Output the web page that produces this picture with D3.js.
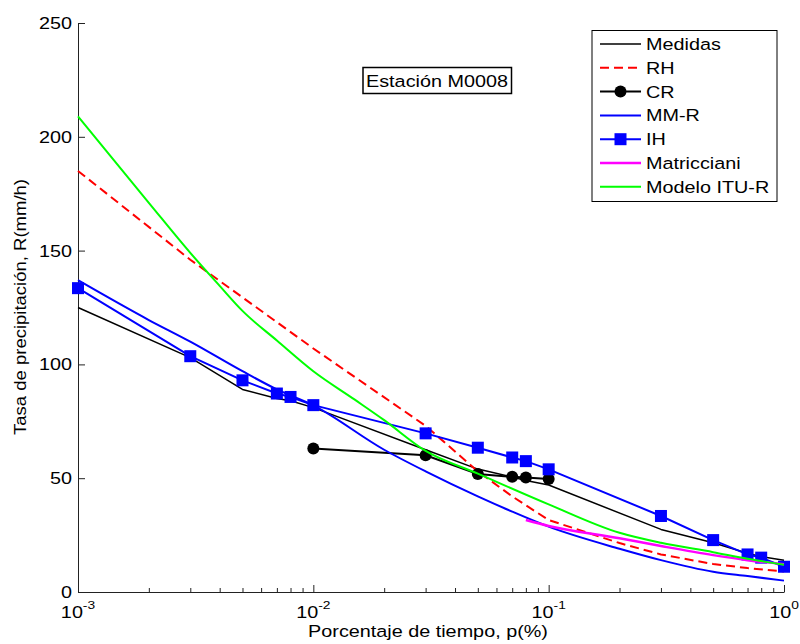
<!DOCTYPE html>
<html><head><meta charset="utf-8">
<script src="https://cdn.jsdelivr.net/npm/d3@7"></script>
<style>body{margin:0;background:#fff}svg{display:block;font-family:Arial,"Liberation Sans",Helvetica,sans-serif}</style>
</head><body><svg width="800" height="644"></svg>
<script>
// ---- data ----
const pMed = [0.001,0.003,0.005,0.007,0.008,0.01,0.03,0.05,0.07,0.08,0.1,0.3,0.5,0.7,0.8,1];
const medidas = [125,103,89,85,84,81,62.5,54,50.5,49,47,27.5,21.6,17,15.5,14];
const pRH = [0.001,0.003,0.01,0.03,0.05,0.07,0.1,0.2,0.3,0.5,0.7,1];
const rh = [185,146,107,73,53,42,31.6,21.5,16.5,12.3,10.5,9];
const pCR = [0.01,0.03,0.05,0.07,0.08,0.1];
const cr = [63,60.1,51.8,50.6,50.3,49.6];
const pMMR = [0.001,0.002,0.003,0.005,0.007,0.01,0.02,0.03,0.05,0.07,0.1,0.2,0.3,0.5,0.7,1];
const mmr = [137,119.5,110,97,89,82,62.5,53,42,35.3,28.7,19,14,8.9,7,5];
const pIH = [0.001,0.003,0.005,0.007,0.008,0.01,0.03,0.05,0.07,0.08,0.1,0.3,0.5,0.7,0.8,1];
const ih = [133.5,103.6,93,87.2,85.7,82.1,69.7,63.4,59.1,57.5,53.9,33.4,22.8,16.5,15.1,11.1];
const pMat = [0.08,0.1,0.2,0.3,0.5,0.7,1];
const mat = [31.6,29,23.6,20.2,16.2,14,12.2];
const pITU = [0.001,0.002,0.003,0.004,0.005,0.007,0.01,0.015,0.02,0.03,0.05,0.1,0.2,0.3,0.5,0.7,1];
const itu = [209,171,149,134.5,123.5,110.5,97,84.5,75.5,62,52,38.5,26,21.6,17.5,14.6,12];
const yTicks = [0,50,100,150,200,250];
const xDecades = [-3,-2,-1,0];
const legendNames = ["Medidas","RH","CR","MM-R","IH","Matricciani","Modelo ITU-R"];
const stationLabel = "Estación M0008";
const xLabel = "Porcentaje de tiempo, p(%)";
const yLabel = "Tasa de precipitación, R(mm/h)";

// ---- setup ----
const svg = d3.select("svg");
const x = d3.scaleLog().domain([1e-3,1]).range([78,784]);
const y = d3.scaleLinear().domain([0,250]).range([592,23]);
const SX = 1.2, FS = 16.5;

function stext(g, px, py, str, anchor, size){
  return g.append("text")
    .attr("transform", `translate(${px},${py}) scale(${SX},1)`)
    .attr("text-anchor", anchor).attr("font-size", size||FS).attr("fill","#000").text(str);
}

// x axis ticks
const allX = [];
xDecades.forEach(e => {
  if (e < 0) for (let k=1;k<=9;k++) allX.push(k*Math.pow(10,e));
  else allX.push(1);
});
const isMajor = v => Math.abs(Math.log10(v) - Math.round(Math.log10(v))) < 1e-9;

const gx = svg.append("g").attr("transform","translate(0,592)")
  .call(d3.axisBottom(x).tickValues(allX).tickSize(-7).tickSizeOuter(0).tickFormat(""));
gx.selectAll(".tick line").attr("y2", d => isMajor(d) ? -7 : -4).attr("stroke","#222");
gx.select(".domain").attr("stroke","#222");

const gy = svg.append("g").attr("transform","translate(78,0)")
  .call(d3.axisLeft(y).tickValues(yTicks).tickSize(-7).tickSizeOuter(0).tickFormat(""));
gy.selectAll(".tick line").attr("stroke","#222");
gy.select(".domain").attr("stroke","#222");

// tick labels
const labels = svg.append("g");
yTicks.forEach(v => stext(labels, 72, y(v)+6, String(v), "end"));
xDecades.forEach(e => {
  const t = labels.append("text")
    .attr("transform", `translate(${x(Math.pow(10,e))},618) scale(${SX},1)`)
    .attr("text-anchor","middle").attr("font-size",FS);
  t.append("tspan").text("10");
  t.append("tspan").attr("dy",-9).attr("font-size",11.5).text(String(e));
});

// axis titles
stext(svg, 428, 637, xLabel, "middle");
svg.append("text")
  .attr("transform","translate(26,307) rotate(-90)")
  .attr("text-anchor","middle").attr("font-size",FS)
  .attr("textLength",256).attr("lengthAdjust","spacingAndGlyphs")
  .text(yLabel);

// ---- series ----
const zip = (a,b) => a.map((v,i)=>[v,b[i]]);
const series = [
  {name:legendNames[0], data:zip(pMed,medidas), color:"#000", w:1.5},
  {name:legendNames[1], data:zip(pRH,rh), color:"#ff0000", w:2, dash:"9,5"},
  {name:legendNames[2], data:zip(pCR,cr), color:"#000", w:2, marker:"circle"},
  {name:legendNames[3], data:zip(pMMR,mmr), color:"#0000ff", w:2, smooth:true},
  {name:legendNames[4], data:zip(pIH,ih), color:"#0000ff", w:2, marker:"square"},
  {name:legendNames[5], data:zip(pMat,mat), color:"#ff00ff", w:2.5, smooth:true},
  {name:legendNames[6], data:zip(pITU,itu), color:"#00ff00", w:2, smooth:true}
];
const plot = svg.append("g");
function drawMarker(g, cx, cy, s){
  if (s.marker === "circle") g.append("circle").attr("cx",cx).attr("cy",cy).attr("r",6).attr("fill",s.color);
  else if (s.marker === "square") g.append("rect").attr("x",cx-6).attr("y",cy-6).attr("width",12).attr("height",12).attr("fill",s.color);
}
series.forEach(s => {
  const line = d3.line().x(d => x(d[0])).y(d => y(d[1]))
    .curve(s.smooth ? d3.curveMonotoneX : d3.curveLinear);
  plot.append("path").attr("d", line(s.data)).attr("fill","none")
    .attr("stroke", s.color).attr("stroke-width", s.w)
    .attr("stroke-dasharray", s.dash || null).attr("stroke-linejoin","round");
  if (s.marker) s.data.forEach(d => drawMarker(plot, x(d[0]), y(d[1]), s));
});

// ---- legend ----
const lg = svg.append("g");
lg.append("rect").attr("x",592).attr("y",30.5).attr("width",185).attr("height",171)
  .attr("fill","#fff").attr("stroke","#000").attr("stroke-width",1);
series.forEach((s,i) => {
  const cy = 44 + i*23.8;
  lg.append("line").attr("x1",600).attr("x2",641).attr("y1",cy).attr("y2",cy)
    .attr("stroke",s.color).attr("stroke-width",s.w).attr("stroke-dasharray", s.dash || null);
  if (s.marker) drawMarker(lg, 620.5, cy, s);
  stext(lg, 646, cy+6, s.name, "start");
});

// ---- station label ----
svg.append("rect").attr("x",363).attr("y",67.5).attr("width",148.5).attr("height",26)
  .attr("fill","#fff").attr("stroke","#000").attr("stroke-width",1.5);
stext(svg, 437, 86.5, stationLabel, "middle");
</script>
</body></html>
